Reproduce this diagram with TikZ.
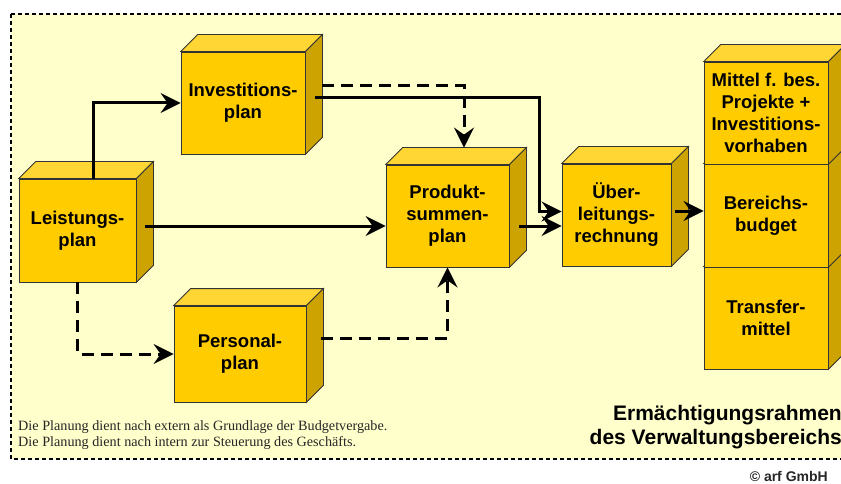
\documentclass[tikz,border=0pt]{standalone}
\usepackage{fontspec}
\setmainfont{Liberation Sans}
\newfontfamily\notefont{Liberation Serif}
\usetikzlibrary{arrows.meta}

\definecolor{hgelb}{HTML}{FFFFCC}
\definecolor{vorne}{HTML}{FFCC00}
\definecolor{oben}{HTML}{FFD633}
\definecolor{seite}{HTML}{CCA300}

% Deckel und Seite eines Quaders
\newcommand{\quaderflaechen}[1]{%
  \filldraw [kante, fill=oben] (#1.north west) -- ++(17pt,17pt) -- ([shift={(17pt,17pt)}]#1.north east) -- (#1.north east) -- cycle;
  \filldraw [kante, fill=seite] (#1.north east) -- ++(17pt,17pt) -- ([shift={(17pt,17pt)}]#1.south east) -- (#1.south east) -- cycle;
}

\begin{document}
\begin{tikzpicture}[x=1pt,y=-1pt]
\tikzstyle{kante} = [draw=black!80, line width=0.8pt]
\tikzstyle{quader} = [rectangle, kante, fill=vorne, inner sep=0pt, align=center, font=\fontsize{18.5}{22}\selectfont\bfseries]
\tikzstyle{arrow} = [line width=3pt, -{Stealth[length=20pt,width=20pt,inset=7pt]}]
\tikzstyle{arrow2} = [arrow, dash pattern=on 12pt off 7pt]
\tikzstyle{note} = [anchor=base west, inner sep=0pt, text=black!85, font=\notefont\fontsize{14.2}{16}\selectfont]
\tikzstyle{titel} = [anchor=base east, inner sep=0pt, font=\fontsize{21}{24}\selectfont\bfseries]
\useasboundingbox (0,0) rectangle (841,484);
\clip (0,0) rectangle (841,484);
\filldraw [fill=hgelb, draw=black, line width=1.5pt, dash pattern=on 4pt off 3pt] (11,14) rectangle (870,459);

\node (inv) [quader, minimum width=124pt, minimum height=102pt] at (243,103) {Investitions-\\plan};
\quaderflaechen{inv}
\node (leist) [quader, minimum width=117pt, minimum height=103pt] at (77.5,230.5) {Leistungs-\\plan};
\quaderflaechen{leist}
\node (pers) [quader, minimum width=132pt, minimum height=96pt] at (240,354) {Personal-\\plan};
\quaderflaechen{pers}
\node (prod) [quader, minimum width=123pt, minimum height=102pt] at (447.5,216) {Produkt-\\summen-\\plan};
\quaderflaechen{prod}
\node (ueber) [quader, minimum width=109pt, minimum height=102pt] at (616.5,215) {Über-\\leitungs-\\rechnung};
\quaderflaechen{ueber}
\node (trans) [quader, minimum width=124pt, minimum height=102pt] at (766,318) {Transfer-\\mittel};
\quaderflaechen{trans}
\node (ber) [quader, minimum width=124pt, minimum height=103pt, node distance=102.5pt, above of=trans] {Bereichs-\\budget};
\quaderflaechen{ber}
\node (mit) [quader, minimum width=124pt, minimum height=102pt, node distance=102.5pt, above of=ber] {Mittel f. bes.\\Projekte +\\Investitions-\\vorhaben};
\quaderflaechen{mit}

\draw [arrow] ([xshift=15.5pt]leist.north) |- (inv.west);
\draw [arrow] ([shift={(9pt,4.5pt)}]leist.east) -- ([yshift=-10pt]prod.west);
\draw [arrow2] (leist.south) |- (pers.west);
\draw [arrow2] ([shift={(17pt,17pt)}]inv.east) -| ([shift={(16.5pt,17pt)}]prod.north);
\draw [arrow] ([shift={(10pt,5pt)}]inv.east) -| ([xshift=-22pt,yshift=3.5pt]ueber.west) -- ([yshift=3.5pt]ueber.west);
\draw [arrow] ([shift={(10pt,-10pt)}]prod.east) -- ([yshift=-11pt]ueber.west);
\draw [arrow] ([shift={(4pt,4pt)}]ueber.east) -- ([yshift=4.5pt]ber.west);
\draw [arrow2] ([shift={(15pt,16pt)}]pers.east) -| (prod.south);

\node (note1) [note] at (18,430) {Die Planung dient nach extern als Grundlage der Budgetvergabe.};
\node (note2) [note] at (18,446) {Die Planung dient nach intern zur Steuerung des Geschäfts.};
\node (titel1) [titel] at (842,420) {Ermächtigungsrahmen};
\node (titel2) [titel] at (842,444) {des Verwaltungsbereichs};
\node (copy) [anchor=base east, inner sep=0pt, text=black!85, font=\fontsize{14}{16}\selectfont\bfseries] at (828,481) {\textcopyright\ arf GmbH};
\end{tikzpicture}
\end{document}
